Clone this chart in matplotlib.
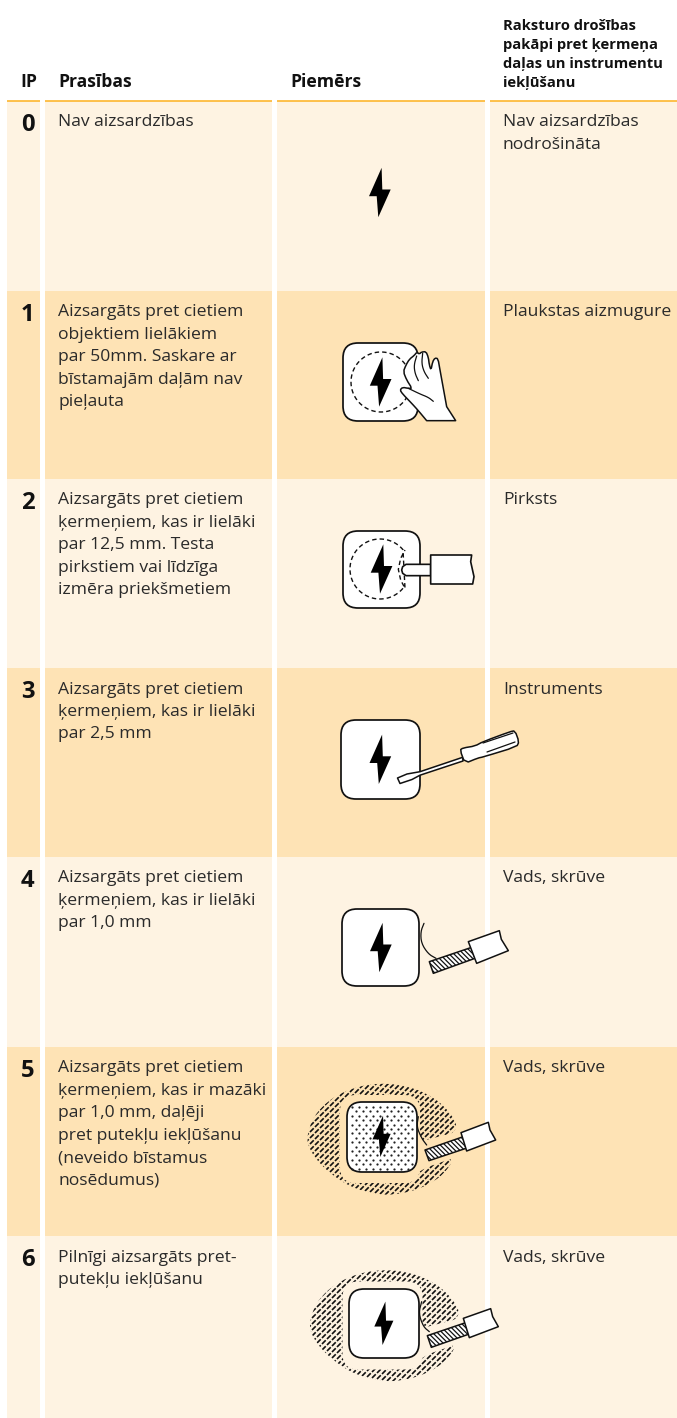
import numpy as np
import matplotlib
matplotlib.use("Agg")
import matplotlib.pyplot as plt
from matplotlib.patches import Rectangle, FancyBboxPatch, Polygon
from matplotlib.collections import LineCollection

# table content
ip_levels = ["0", "1", "2", "3", "4", "5", "6"]
requirements = [
    ["Nav aizsardzības"],
    ["Aizsargāts pret cietiem", "objektiem lielākiem", "par 50mm. Saskare ar", "bīstamajām daļām nav", "pieļauta"],
    ["Aizsargāts pret cietiem", "ķermeņiem, kas ir lielāki", "par 12,5 mm. Testa", "pirkstiem vai līdzīga", "izmēra priekšmetiem"],
    ["Aizsargāts pret cietiem", "ķermeņiem, kas ir lielāki", "par 2,5 mm"],
    ["Aizsargāts pret cietiem", "ķermeņiem, kas ir lielāki", "par 1,0 mm"],
    ["Aizsargāts pret cietiem", "ķermeņiem, kas ir mazāki", "par 1,0 mm, daļēji", "pret putekļu iekļūšanu", "(neveido bīstamus", "nosēdumus)"],
    ["Pilnīgi aizsargāts pret-", "putekļu iekļūšanu"],
]
protection = [
    ["Nav aizsardzības", "nodrošināta"],
    ["Plaukstas aizmugure"],
    ["Pirksts"],
    ["Instruments"],
    ["Vads, skrūve"],
    ["Vads, skrūve"],
    ["Vads, skrūve"],
]
headers = ["IP", "Prasības", "Piemērs"]
last_header = ["Raksturo drošības", "pakāpi pret ķermeņa", "daļas un instrumentu", "iekļūšanu"]

row_tops = [101, 291, 479, 668, 857, 1047, 1236, 1418]
columns = [(7, 40), (45, 272), (277, 485), (490, 677)]
LIGHT = "#fef3e2"
DARK = "#fee3b5"
LINE = "#fdb62f"
INK = "#2a2a2a"
FONT = "Open Sans"

fig = plt.figure(figsize=(6.77, 14.18), dpi=100, facecolor="white")
ax = fig.add_axes([0, 0, 1, 1])
ax.set_xlim(0, 677)
ax.set_ylim(1418, 0)
ax.axis("off")
plt.rcParams["hatch.linewidth"] = 0.9


def zoomed(points, ox, oy, s=3.0):
    return [(ox + x / s, oy + y / s) for x, y in points]


def smooth(points, closed=False, rounds=2):
    # corner cutting so the hand drawn shapes do not look like polygons
    p = np.array(points, dtype=float)
    for _ in range(rounds):
        q = np.roll(p, -1, axis=0) if closed else p[1:]
        a = p if closed else p[:-1]
        cut = np.empty((len(a) * 2, 2))
        cut[0::2] = a * 0.75 + q * 0.25
        cut[1::2] = a * 0.25 + q * 0.75
        if not closed:
            cut = np.vstack([p[0], cut, p[-1]])
        p = cut
    return p


def box(x0, y0, x1, y1, r=15, z=3):
    ax.add_patch(FancyBboxPatch((x0 + r, y0 + r), x1 - x0 - 2 * r, y1 - y0 - 2 * r,
                                boxstyle="round,pad=%d,rounding_size=%d" % (r, r),
                                fc="white", ec="#111111", lw=1.25, zorder=z))


def bolt(cx, cy, s=1.0, z=6):
    shape = [(1.6, -24.7), (-11, 3.7), (-3.3, 3.7), (-1.7, 24.7), (10.7, -3), (2.3, -3)]
    ax.add_patch(Polygon([(cx + x * s, cy + y * s) for x, y in shape], closed=True,
                         fc="black", ec="none", zorder=z))


def outline(points, z=5, fc="white", lw=1.1, **kw):
    ax.add_patch(Polygon(points, closed=True, fc=fc, ec="#111111", lw=lw, joinstyle="round", zorder=z, **kw))


def curve(points, z=5, lw=0.9, ls="-"):
    xs, ys = zip(*points)
    ax.plot(xs, ys, color="#111111", lw=lw, ls=ls, zorder=z, solid_capstyle="round")


def screw(ox, oy, pts_screw, pts_sleeve, pts_wire):
    curve(smooth(zoomed(pts_wire, ox, oy)), z=4)
    outline(zoomed(pts_screw, ox, oy), fc="white", hatch="\\\\\\\\\\\\\\", z=5)
    outline(zoomed(pts_sleeve, ox, oy), z=6)


def dust(ox, oy, bg):
    # hatched cloud round the enclosure
    cloud = zoomed([(80, 205), (95, 150), (130, 105), (180, 70), (240, 48), (300, 40), (370, 45),
                    (440, 70), (490, 105), (525, 150), (530, 175), (510, 195), (440, 235), (520, 265),
                    (505, 295), (470, 330), (410, 360), (340, 375), (280, 372), (210, 350), (150, 310),
                    (110, 270), (88, 235)], ox, oy)
    clip = Polygon(smooth(cloud, closed=True), closed=True, fc="none", ec="none", zorder=2)
    ax.add_patch(clip)
    xc, yc = round(ox) + 100, round(oy) + 70
    d = np.array([1, -1]) / np.sqrt(2)
    n = np.array([1, 1]) / np.sqrt(2)
    segs = []
    for k in range(-28, 29):
        for t in np.arange(-20, 21):
            p = np.array([xc, yc]) + n * k * 4.243 + d * (t * 7.071 + k * 2.83)
            segs.append([p, p + d * 5.3])
    lc = LineCollection(segs, colors="#111111", linewidths=1.2, zorder=2)
    ax.add_collection(lc)
    lc.set_clip_path(clip)
    # clear strip round the enclosure and the tool
    ax.add_patch(FancyBboxPatch((ox + 60 + 16, oy + 25 + 16), 80 - 32, 88 - 32,
                                boxstyle="round,pad=16,rounding_size=16", fc=bg, ec="none", zorder=2.5))
    ax.add_patch(Polygon(zoomed([(410, 190), (430, 212), (560, 178), (575, 245), (440, 292), (410, 310)], ox, oy),
                         closed=True, fc=bg, ec="none", zorder=2.5))


# cells
for r in range(len(ip_levels)):
    bg = DARK if r % 2 else LIGHT
    for x0, x1 in columns:
        ax.add_patch(Rectangle((x0, row_tops[r]), x1 - x0, row_tops[r + 1] - row_tops[r], fc=bg, ec="none", zorder=0))
for x0, x1 in columns:
    ax.plot([x0, x1], [101, 101], color=LINE, lw=1.2, solid_capstyle="butt", zorder=1)

# header
for x, label in zip([20, 58, 290], headers):
    ax.text(x, 87, label, fontsize=12.6, fontweight="bold", family=FONT, color="#111111")
for i, line in enumerate(last_header):
    ax.text(503, 30 + i * 19, line, fontsize=10.6, fontweight="bold", family=FONT, color="#111111")

# text rows
for r, level in enumerate(ip_levels):
    top = row_tops[r]
    ax.text(27.5, top + 30, level, fontsize=17.2, fontweight="bold", family=FONT, color="#111111", ha="center")
    for i, line in enumerate(requirements[r]):
        ax.text(58, top + 25.5 + i * 22.4, line, fontsize=12.6, family=FONT, color=INK)
    for i, line in enumerate(protection[r]):
        ax.text(503, top + 25.5 + i * 22.4, line, fontsize=12.6, family=FONT, color=INK)

# IP0
bolt(380, 192.5)

# IP1 hand
box(343, 343, 418, 421)
th = np.linspace(0, 2 * np.pi, 120)
curve(list(zip(381 + 30 * np.cos(th), 382 + 30 * np.sin(th))), z=4, lw=1.0, ls=(0, (3.2, 2.2)))
bolt(380.8, 382)
hand = [(527, 302), (440, 302), (415, 272), (395, 250), (368, 222), (360, 210), (368, 202), (385, 205), (396, 205),
        (380, 180), (370, 155), (378, 135), (388, 118), (403, 106), (410, 97), (418, 102), (425, 96), (438, 95),
        (445, 112), (448, 135), (453, 150), (458, 125), (465, 114), (474, 116), (480, 150), (490, 205), (500, 260)]
outline(np.vstack([zoomed(hand[:2], 280, 320), smooth(zoomed(hand[1:], 280, 320), rounds=1)]), z=5)
curve(smooth(zoomed([(385, 205), (420, 222), (445, 232), (460, 244)], 280, 320)), z=6)
curve(smooth(zoomed([(410, 108), (402, 135), (405, 160), (415, 182)], 280, 320)), z=6)
curve(smooth(zoomed([(428, 100), (425, 130), (432, 155), (445, 175)], 280, 320)), z=6)

# IP2 finger
box(343, 531, 420, 608)
th = np.deg2rad(np.linspace(40, 320, 90))
arc_x = 380 + 30 * np.cos(th)
arc_y = 569 + 30 * np.sin(th)
bite = zoomed([(375, 805), (362, 780), (355, 748), (362, 715), (375, 690)], 280, 320)
curve(list(zip(arc_x, arc_y)) + bite, z=4, lw=1.0, ls=(0, (3.2, 2.2)))
bolt(381.7, 569)
outline(zoomed([(378, 733), (452, 733), (452, 767), (378, 767), (368, 760), (365, 750), (368, 740)], 280, 320), z=5, lw=1.2)
outline(zoomed([(452, 705), (575, 705), (572, 725), (582, 770), (578, 792), (452, 792)], 280, 320), z=5, lw=1.2)

# IP3 screwdriver
box(341, 720, 420, 799)
bolt(380.5, 759.3)
outline([(397.5, 778), (400, 783.5), (412, 779.5), (420, 775.2), (463, 761), (462.7, 757.3), (420, 771.7), (407, 774)], z=5)
outline(smooth([(460, 750), (465, 763.3), (478, 758), (483, 757), (516.7, 746.7), (519, 741.7), (515, 730.7), (510, 731.7),
                (483, 741.7), (475, 746), (463, 748)], closed=True, rounds=1), z=5)
curve([(483, 743), (513, 733)], z=6)
curve([(487, 752), (515, 742)], z=6)

# IP4 wire and screw
box(342, 909, 419, 986)
bolt(381, 947.5)
screw(280, 700, [(448, 785), (575, 742), (585, 775), (460, 820)],
      [(565, 725), (658, 692), (664, 718), (685, 752), (590, 790)],
      [(432, 670), (422, 695), (424, 730), (445, 762), (468, 775)])

# IP5 dust with dotted enclosure
dust(280, 1070, DARK)
box(347, 1102, 417, 1172)
gx, gy = np.meshgrid(np.arange(352, 414, 7.0), np.arange(1107, 1169, 4.4))
gx = gx + (np.arange(gx.shape[0]) % 2)[:, None] * 3.5
keep = gx < 413.5
ax.scatter(gx[keep], gy[keep], s=2.6, color="#222222", linewidths=0, zorder=4)
bolt(381.7, 1136.3, 0.84)
screw(280, 1070, [(435, 240), (550, 200), (558, 235), (447, 272)],
      [(543, 188), (625, 157), (630, 180), (647, 210), (560, 243)],
      [(415, 140), (410, 170), (425, 205), (440, 225)])

# IP6 dust
dust(282.5, 1256.5, LIGHT)
box(349, 1289, 419, 1358)
bolt(384, 1323.3, 0.88)
screw(280, 1070, [(442, 797), (557, 758), (565, 793), (454, 832)],
      [(550, 745), (632, 716), (638, 740), (655, 770), (568, 803)],
      [(425, 695), (416, 730), (430, 770), (448, 785)])

fig.savefig("out.png", dpi=100, facecolor="white")
